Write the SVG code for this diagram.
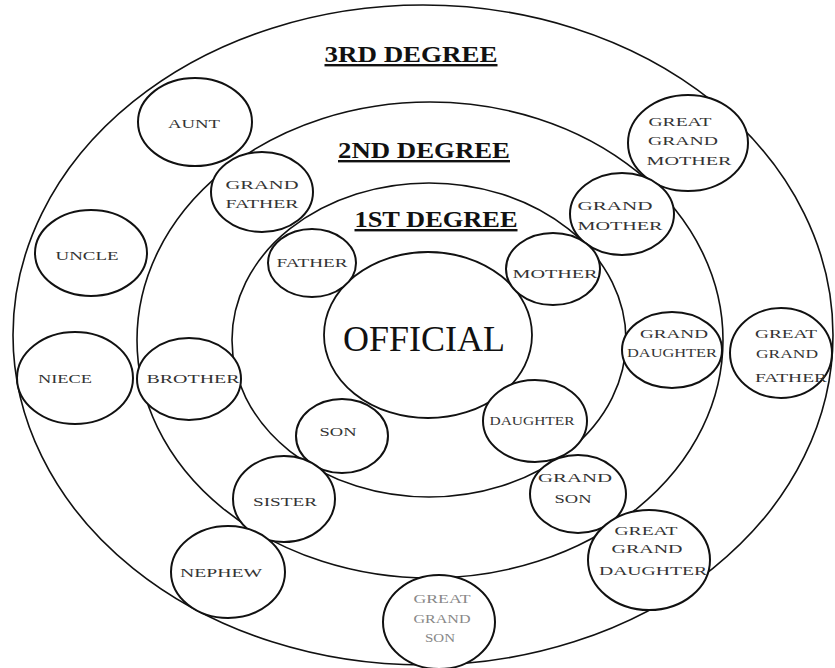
<svg xmlns="http://www.w3.org/2000/svg" width="835" height="668" viewBox="0 0 835 668">
<style>
.ring{fill:none;stroke:#111;stroke-width:1.6}
.core{fill:#fff;stroke:#111;stroke-width:1.8}
.n{fill:#fff;stroke:#111;stroke-width:2}
.t{font-family:"Liberation Serif","Times New Roman",serif;font-size:13px;fill:#333;text-anchor:middle}
.deg{font-family:"Liberation Serif","Times New Roman",serif;font-size:24px;font-weight:bold;fill:#111;text-anchor:middle;text-decoration:underline}
.big{font-family:"Liberation Serif","Times New Roman",serif;font-size:36px;fill:#111;text-anchor:middle}
</style>
<rect width="835" height="668" fill="#fff"/>
<g id="ring3"><ellipse class="ring" cx="423" cy="335" rx="410" ry="330"/><text class="deg" x="411" y="62" textLength="173" lengthAdjust="spacingAndGlyphs">3RD DEGREE</text></g>
<g id="ring2"><ellipse class="ring" cx="430" cy="340" rx="293" ry="238"/><text class="deg" x="424" y="158" textLength="172" lengthAdjust="spacingAndGlyphs">2ND DEGREE</text></g>
<g id="ring1"><ellipse class="ring" cx="429" cy="340" rx="197" ry="157"/><text class="deg" x="436" y="227" textLength="163" lengthAdjust="spacingAndGlyphs">1ST DEGREE</text></g>
<g id="connectors"></g>
<g id="official"><ellipse class="core" cx="428" cy="335" rx="104" ry="83"/><text class="big" x="424" y="351" textLength="162" lengthAdjust="spacingAndGlyphs">OFFICIAL</text></g>
<g id="aunt"><ellipse class="n" cx="195" cy="122" rx="57" ry="44"/><text class="t" x="194" y="128" textLength="52" lengthAdjust="spacingAndGlyphs">AUNT</text></g>
<g id="grandfather"><ellipse class="n" cx="262" cy="192" rx="51" ry="40"/><text class="t" x="262" y="189" textLength="73" lengthAdjust="spacingAndGlyphs">GRAND</text><text class="t" x="262" y="208" textLength="73" lengthAdjust="spacingAndGlyphs">FATHER</text></g>
<g id="uncle"><ellipse class="n" cx="91" cy="253" rx="56" ry="43"/><text class="t" x="87" y="260" textLength="63" lengthAdjust="spacingAndGlyphs">UNCLE</text></g>
<g id="father"><ellipse class="n" cx="312" cy="263" rx="44" ry="34"/><text class="t" x="312" y="267" textLength="71" lengthAdjust="spacingAndGlyphs">FATHER</text></g>
<g id="greatgrandmother"><ellipse class="n" cx="688" cy="143" rx="60" ry="48"/><text class="t" x="680" y="126" textLength="63" lengthAdjust="spacingAndGlyphs">GREAT</text><text class="t" x="683" y="145" textLength="70" lengthAdjust="spacingAndGlyphs">GRAND</text><text class="t" x="689" y="165" textLength="85" lengthAdjust="spacingAndGlyphs">MOTHER</text></g>
<g id="grandmother"><ellipse class="n" cx="622" cy="214" rx="52" ry="41"/><text class="t" x="615" y="210" textLength="75" lengthAdjust="spacingAndGlyphs">GRAND</text><text class="t" x="620" y="230" textLength="85" lengthAdjust="spacingAndGlyphs">MOTHER</text></g>
<g id="mother"><ellipse class="n" cx="553" cy="269" rx="47" ry="36"/><text class="t" x="555" y="278" textLength="85" lengthAdjust="spacingAndGlyphs">MOTHER</text></g>
<g id="granddaughter"><ellipse class="n" cx="672" cy="350" rx="50" ry="38"/><text class="t" x="674" y="338" textLength="68" lengthAdjust="spacingAndGlyphs">GRAND</text><text class="t" x="672" y="357" textLength="90" lengthAdjust="spacingAndGlyphs">DAUGHTER</text></g>
<g id="greatgrandfather"><ellipse class="n" cx="781" cy="353" rx="51" ry="45"/><text class="t" x="786" y="338" textLength="62" lengthAdjust="spacingAndGlyphs">GREAT</text><text class="t" x="787" y="358" textLength="62" lengthAdjust="spacingAndGlyphs">GRAND</text><text class="t" x="791" y="382" textLength="72" lengthAdjust="spacingAndGlyphs">FATHER</text></g>
<g id="niece"><ellipse class="n" cx="75" cy="378" rx="58" ry="46"/><text class="t" x="65" y="383" textLength="54" lengthAdjust="spacingAndGlyphs">NIECE</text></g>
<g id="brother"><ellipse class="n" cx="189" cy="379" rx="52" ry="41"/><text class="t" x="193" y="383" textLength="93" lengthAdjust="spacingAndGlyphs">BROTHER</text></g>
<g id="son"><ellipse class="n" cx="342" cy="436" rx="46" ry="37"/><text class="t" x="338" y="436" textLength="37" lengthAdjust="spacingAndGlyphs">SON</text></g>
<g id="sister"><ellipse class="n" cx="284" cy="499" rx="51" ry="43"/><text class="t" x="285" y="506" textLength="64" lengthAdjust="spacingAndGlyphs">SISTER</text></g>
<g id="nephew"><ellipse class="n" cx="228" cy="572" rx="57" ry="46"/><text class="t" x="221" y="577" textLength="82" lengthAdjust="spacingAndGlyphs">NEPHEW</text></g>
<g id="daughter"><ellipse class="n" cx="535" cy="421" rx="52" ry="41"/><text class="t" x="532" y="425" textLength="85" lengthAdjust="spacingAndGlyphs">DAUGHTER</text></g>
<g id="grandson"><ellipse class="n" cx="578" cy="494" rx="48" ry="39"/><text class="t" x="575" y="482" textLength="74" lengthAdjust="spacingAndGlyphs">GRAND</text><text class="t" x="573" y="503" textLength="37" lengthAdjust="spacingAndGlyphs">SON</text></g>
<g id="greatgranddaughter"><ellipse class="n" cx="649" cy="560" rx="61" ry="50"/><text class="t" x="646" y="535" textLength="63" lengthAdjust="spacingAndGlyphs">GREAT</text><text class="t" x="647" y="553" textLength="71" lengthAdjust="spacingAndGlyphs">GRAND</text><text class="t" x="653" y="575" textLength="108" lengthAdjust="spacingAndGlyphs">DAUGHTER</text></g>
<g id="greatgrandson"><ellipse class="n" cx="439" cy="622" rx="56" ry="47"/><text class="t" x="442" y="603" textLength="57" lengthAdjust="spacingAndGlyphs" fill="#777" style="fill:#888">GREAT</text><text class="t" x="442" y="623" textLength="57" lengthAdjust="spacingAndGlyphs" style="fill:#888">GRAND</text><text class="t" x="440" y="642" textLength="30" lengthAdjust="spacingAndGlyphs" style="fill:#888">SON</text></g>
</svg>
